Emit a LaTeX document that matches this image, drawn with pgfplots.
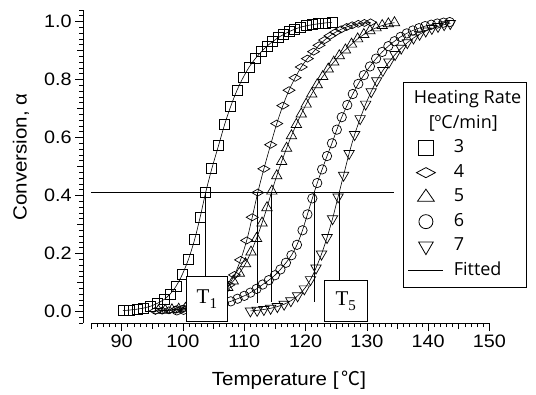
\documentclass[border=0pt]{standalone}
\usepackage{pgfplots}
\pgfplotsset{compat=1.18}
\usepackage{fontspec}
\setmainfont{Liberation Sans}[FakeStretch=1.08]
\newfontfamily\tickfont{Liberation Sans}[FakeStretch=1.1]
\newfontfamily\cjk{Noto Sans CJK KR}
\newfontfamily\legfont{Open Sans}
\newfontfamily\seriffont{Liberation Serif}

\pgfplotstableread{
T a
90.2 0.003
91.3 0.005
92.5 0.008
93.6 0.012
94.7 0.018
95.8 0.028
96.9 0.041
97.9 0.060
98.9 0.088
99.9 0.128
100.9 0.180
101.9 0.248
102.8 0.325
103.7 0.410
104.7 0.492
105.8 0.572
106.8 0.645
107.8 0.708
108.8 0.762
109.8 0.806
110.8 0.843
111.8 0.872
112.8 0.896
113.7 0.915
114.6 0.930
115.5 0.944
116.4 0.955
117.3 0.965
118.2 0.973
119.1 0.980
120.1 0.985
121.1 0.989
122.1 0.992
123.2 0.995
124.3 0.997
}\rateA

\pgfplotstableread{
T a
95.5 0.002
96.6 0.003
97.7 0.004
98.8 0.006
99.9 0.009
101.0 0.013
102.0 0.018
103.0 0.025
104.0 0.034
105.0 0.046
105.9 0.060
106.7 0.074
107.5 0.092
108.4 0.126
109.4 0.178
110.4 0.245
111.3 0.325
112.2 0.410
113.2 0.492
114.3 0.575
115.3 0.648
116.3 0.710
117.3 0.763
118.3 0.806
119.3 0.843
120.3 0.872
121.3 0.896
122.2 0.918
123.1 0.936
124.0 0.951
124.9 0.963
125.8 0.973
126.7 0.981
127.6 0.987
128.6 0.992
129.6 0.995
130.6 0.997
}\rateB

\pgfplotstableread{
T a
96.0 0.003
97.1 0.004
98.2 0.006
99.3 0.008
100.4 0.011
101.5 0.015
102.5 0.021
103.5 0.028
104.5 0.038
105.5 0.050
106.4 0.065
107.3 0.083
108.2 0.105
109.2 0.132
110.2 0.165
111.1 0.205
112.0 0.252
112.9 0.305
113.7 0.358
114.5 0.415
115.3 0.468
116.1 0.517
116.9 0.563
117.7 0.606
118.5 0.645
119.3 0.681
120.1 0.715
121.0 0.750
121.9 0.782
122.8 0.810
123.7 0.836
124.6 0.860
125.5 0.882
126.5 0.902
127.5 0.922
128.5 0.940
129.5 0.955
130.5 0.968
131.5 0.978
132.5 0.986
133.5 0.992
134.5 0.996
}\rateC

\pgfplotstableread{
T a
99.0 0.004
100.1 0.006
101.2 0.008
102.3 0.010
103.4 0.013
104.5 0.017
105.6 0.022
106.7 0.028
107.8 0.035
108.9 0.044
110.0 0.054
111.0 0.065
112.0 0.078
113.0 0.093
114.0 0.108
115.0 0.125
115.9 0.145
116.8 0.168
117.7 0.194
118.6 0.230
119.5 0.280
120.3 0.335
121.1 0.390
121.9 0.443
122.7 0.490
123.5 0.536
124.3 0.580
125.1 0.627
125.9 0.670
126.8 0.712
127.7 0.750
128.6 0.785
129.5 0.815
130.5 0.845
131.5 0.872
132.5 0.895
133.5 0.915
134.5 0.932
135.5 0.947
136.5 0.959
137.5 0.969
138.5 0.977
139.5 0.984
140.5 0.989
141.5 0.993
142.5 0.996
143.5 0.998
}\rateD

\pgfplotstableread{
T a
111.0 0.002
112.1 0.004
113.2 0.007
114.3 0.011
115.4 0.017
116.5 0.025
117.6 0.037
118.7 0.054
119.8 0.078
120.8 0.110
121.7 0.150
122.6 0.198
123.5 0.255
124.4 0.320
125.3 0.395
126.2 0.470
127.1 0.545
128.0 0.610
128.9 0.665
129.8 0.715
130.7 0.758
131.6 0.796
132.6 0.831
133.6 0.860
134.6 0.886
135.6 0.908
136.6 0.927
137.6 0.943
138.6 0.956
139.6 0.967
140.6 0.976
141.6 0.983
142.6 0.989
143.6 0.993
}\rateE

\begin{document}
\begin{tikzpicture}
\useasboundingbox (0,0) rectangle (536pt,394pt);
\begin{axis}[
  at={(91pt,70.9pt)}, anchor=south west,
  scale only axis, width=398.5pt, height=313.2pt,
  xmin=85, xmax=150, ymin=-0.04, ymax=1.04,
  axis x line=bottom, axis y line=left,
  axis y line shift=7.8pt,
  axis line style={-, line width=0.8pt},
  tick align=outside,
  xtick={90,100,110,120,130,140,150},
  minor xtick={85,86,...,150},
  ytick={0,0.2,0.4,0.6,0.8,1.0},
  minor ytick={-0.04,-0.02,...,1.04},
  extra x ticks={85,95,105,115,125,135,145},
  extra x tick labels={},
  extra y ticks={0.1,0.3,0.5,0.7,0.9},
  extra y tick labels={},
  extra tick style={major tick length=6pt},
  major tick length=8pt, minor tick length=4pt,
  every tick/.append style={line width=0.7pt, black},
  /pgf/number format/assume math mode=true,
  tick label style={font=\tickfont\fontsize{18}{18}\selectfont},
  yticklabel style={/pgf/number format/.cd, fixed, fixed zerofill, precision=1},
  xticklabel style={/pgf/number format/.cd, fixed, precision=0},
  xlabel={Temperature [\hspace{3pt}{\cjk ℃}]},
  ylabel={Conversion, α},
  label style={font=\fontsize{19}{19}\selectfont},
  xlabel style={at={(axis description cs:0.497,-0.182)}, anchor=center},
  ylabel style={at={(axis description cs:-0.176,0.53)}, anchor=center},
  legend image code/.code={\draw[mark repeat=2,mark phase=2,#1] plot coordinates {(0pt,0pt) (17.5pt,0pt) (35pt,0pt)};},
  legend style={at={(axis description cs:0.782,0.769)}, anchor=north west, draw=black, line width=0.8pt, fill=white,
    inner xsep=5pt, inner ysep=8pt, column sep=10pt, row sep=7.5pt,
    font=\legfont\fontsize{18}{18}\selectfont,
    nodes={inner sep=0pt, text height=13pt, text depth=4pt}},
  legend cell align=left,
  after end axis/.code={
    \node[draw=black, fill=white, line width=0.8pt, minimum width=41pt, minimum height=45pt, inner sep=0pt, font=\seriffont\fontsize{21}{21}\selectfont] at (axis cs:103.9,0.042) {T\raisebox{-0.22em}{\fontsize{15}{15}\selectfont 1}};
    \node[draw=black, fill=white, line width=0.8pt, minimum width=43pt, minimum height=41pt, inner sep=0pt, font=\seriffont\fontsize{21}{21}\selectfont] at (axis cs:126.55,0.035) {T\raisebox{-0.22em}{\fontsize{15}{15}\selectfont 5}};
  },
]
\addplot[black, line width=1.1pt, forget plot] coordinates {(85,0.41) (134.5,0.41)};
\addplot[black, line width=0.7pt, forget plot] coordinates {(103.7,0.41) (103.7,0.12)};
\addplot[black, line width=0.7pt, forget plot] coordinates {(112.2,0.41) (112.2,0.03)};
\addplot[black, line width=0.7pt, forget plot] coordinates {(114.4,0.41) (114.4,0.034)};
\addplot[black, line width=0.7pt, forget plot] coordinates {(121.4,0.41) (121.4,0.034)};
\addplot[black, line width=0.7pt, forget plot] coordinates {(125.5,0.41) (125.5,0.105)};

\addplot[black, line width=0.6pt, smooth, mark=square, mark size=5pt, mark options={solid, line width=0.7pt}, forget plot] table[x=T, y=a] {\rateA};
\addplot[black, line width=0.6pt, smooth, mark=diamond, mark size=5pt, mark options={solid, line width=0.7pt, xscale=1.6, yscale=0.7}, forget plot] table[x=T, y=a] {\rateB};
\addplot[black, line width=0.6pt, smooth, mark=triangle, mark size=6pt, mark options={solid, line width=0.7pt}, forget plot] table[x=T, y=a] {\rateC};
\addplot[black, line width=0.6pt, smooth, mark=o, mark size=4.7pt, mark options={solid, line width=0.7pt}, forget plot] table[x=T, y=a] {\rateD};
\addplot[black, line width=0.6pt, smooth, mark=triangle, mark size=6pt, mark options={solid, line width=0.7pt, rotate=180}, forget plot] table[x=T, y=a] {\rateE};

\addlegendimage{empty legend}\addlegendentry{\hspace*{-40pt}Heating Rate}
\addlegendimage{empty legend}\addlegendentry{\hspace*{-25pt}[ºC/min]}
\addlegendimage{black, only marks, mark=square, mark size=7.3pt, mark options={line width=0.8pt}}\addlegendentry{3}
\addlegendimage{black, only marks, mark=diamond, mark size=7pt, mark options={line width=0.8pt, xscale=1.8, yscale=0.72}}\addlegendentry{4}
\addlegendimage{black, only marks, mark=triangle, mark size=8pt, mark options={line width=0.8pt, xscale=1.2}}\addlegendentry{5}
\addlegendimage{black, only marks, mark=o, mark size=7pt, mark options={line width=0.8pt}}\addlegendentry{6}
\addlegendimage{black, only marks, mark=triangle, mark size=8.5pt, mark options={line width=0.8pt, rotate=180}}\addlegendentry{7}
\addlegendimage{black, line width=0.8pt}\addlegendentry{Fitted}
\end{axis}
\end{tikzpicture}
\end{document}
